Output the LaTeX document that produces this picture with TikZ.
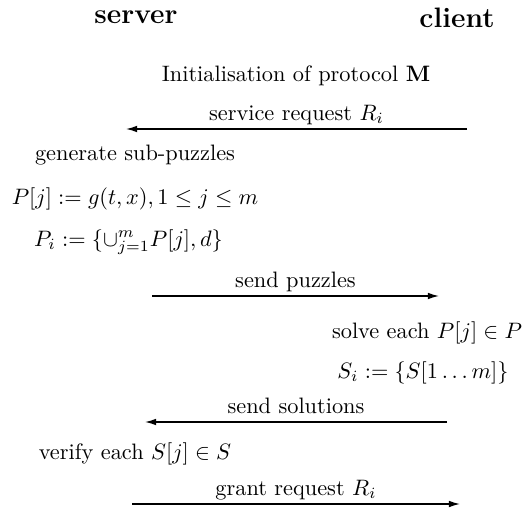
\documentclass[tikz,border=0pt]{standalone}
\usetikzlibrary{arrows.meta}
\begin{document}
\begin{tikzpicture}[x=0.448pt,y=-0.448pt,
  txt/.style={inner sep=0pt, anchor=base},
  head/.style={inner sep=0pt, font=\fontsize{12.6}{15}\selectfont\bfseries},
  msg/.style={-{Latex[length=5pt,width=3pt]}, line width=0.6pt},
  lbl/.style={inner sep=0pt, anchor=base, yshift=4pt}]
\useasboundingbox (0,0) rectangle (527,514);
% headers
\node[head] (server) at (136,17.5) {server};
\node[head] (client) at (457,17.5) {client};
\node[txt] (init) at (296,82) {Initialisation of protocol $\mathbf{M}$};
% message 1
\coordinate (m1s) at (467,129);
\coordinate (m1e) at (126,129);
\draw[msg] (m1s) -- node[lbl] (l1) {service request $R_i$} (m1e);
% server steps
\node[txt] (gen) at (135,160) {generate sub-puzzles};
\node[txt] (pj) at (135,204) {$P[j] := g(t,x), 1 \leq j \leq m$};
\node[txt] (pi) at (128.5,246) {$P_i := \{\cup_{j=1}^{m} P[j], d\}$};
% message 2
\coordinate (m2s) at (152,296);
\coordinate (m2e) at (439,296);
\draw[msg] (m2s) -- node[lbl] (l2) {send puzzles} (m2e);
% client steps
\node[txt] (solve) at (427,338) {solve each $P[j] \in P$};
\node[txt] (si) at (423,378) {$S_i := \{S[1\ldots m]\}$};
% message 3
\coordinate (m3s) at (447,422);
\coordinate (m3e) at (145,422);
\draw[msg] (m3s) -- node[lbl] (l3) {send solutions} (m3e);
\node[txt] (verify) at (135,459) {verify each $S[j] \in S$};
% message 4
\coordinate (m4s) at (132,504);
\coordinate (m4e) at (460,504);
\draw[msg] (m4s) -- node[lbl] (l4) {grant request $R_i$} (m4e);
\end{tikzpicture}
\end{document}
